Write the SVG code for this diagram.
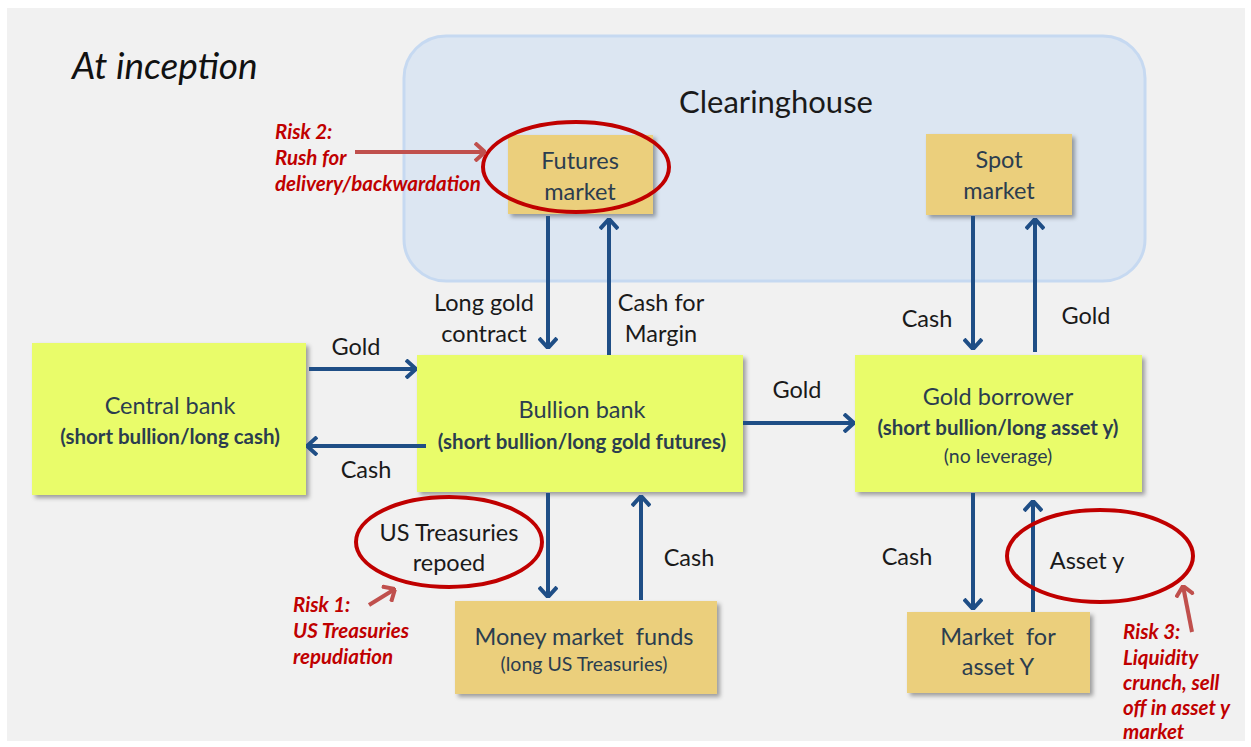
<svg xmlns="http://www.w3.org/2000/svg" width="1251" height="747" viewBox="0 0 1251 747">
<defs>
<filter id="sh" x="-10%" y="-10%" width="130%" height="130%">
<feDropShadow dx="3" dy="3" stdDeviation="2" flood-color="#000" flood-opacity="0.35"/>
</filter>
<marker id="ah" viewBox="0 0 12 20" refX="11" refY="10" markerWidth="12" markerHeight="20" markerUnits="userSpaceOnUse" orient="auto">
<polyline points="1,1 11,10 1,19" fill="none" stroke="#1f4e86" stroke-width="4"/>
</marker>
<marker id="rh" viewBox="0 0 12 20" refX="11" refY="10" markerWidth="12" markerHeight="20" markerUnits="userSpaceOnUse" orient="auto">
<polyline points="1,1 11,10 1,19" fill="none" stroke="#c0504d" stroke-width="4"/>
</marker>
</defs>
<style>
text{font-family:Lato,"Liberation Sans",sans-serif;white-space:pre;}
.node{fill:#2b3d4f;font-size:23.5px;text-anchor:middle;}
.sub{fill:#2b3d4f;font-size:20.5px;font-weight:bold;text-anchor:middle;}
.sm{fill:#2b3d4f;font-size:19.5px;text-anchor:middle;}
.lbl{fill:#1a1a1a;font-size:23.5px;text-anchor:middle;}
.risk{fill:#c00000;font-size:20.5px;font-weight:bold;font-style:italic;}
.yg{fill:#e9fc6a;filter:url(#sh);}
.tan{fill:#ebcf7b;filter:url(#sh);}
.arr{stroke:#1f4e86;stroke-width:4;fill:none;marker-end:url(#ah);}
.rarr{stroke:#c0504d;stroke-width:4;fill:none;marker-end:url(#rh);}
.ring{fill:none;stroke:#c00000;stroke-width:4;}
</style>
<rect x="0" y="0" width="1251" height="747" fill="#ffffff"/>
<rect x="7" y="8" width="1238" height="733" fill="#f1f1f1"/>
<text x="72" y="79" font-size="37" font-style="italic" fill="#111">At inception</text>

<g id="clearinghouse">
<rect x="404" y="36" width="741" height="245" rx="42" fill="#dce6f2" stroke="#c6d9f1" stroke-width="3"/>
<text x="776" y="113" font-size="31" fill="#1a1a1a" text-anchor="middle">Clearinghouse</text>
</g>

<g id="futures">
<rect class="tan" x="508" y="135" width="145" height="79"/>
<text class="node" x="580" y="169">Futures</text>
<text class="node" x="580" y="200">market</text>
</g>
<g id="spot">
<rect class="tan" x="926" y="134" width="146" height="81"/>
<text class="node" x="999" y="168">Spot</text>
<text class="node" x="999" y="199">market</text>
</g>
<g id="central">
<rect class="yg" x="32" y="343" width="274" height="152"/>
<text class="node" x="170" y="414">Central bank</text>
<text class="sub" x="170" y="444">(short bullion/long cash)</text>
</g>
<g id="bullion">
<rect class="yg" x="417" y="355" width="326" height="137"/>
<text class="node" x="582" y="418">Bullion bank</text>
<text class="sub" x="582" y="449">(short bullion/long gold futures)</text>
</g>
<g id="borrower">
<rect class="yg" x="855" y="355" width="287" height="137"/>
<text class="node" x="998" y="405">Gold borrower</text>
<text class="sub" x="998" y="435">(short bullion/long asset y)</text>
<text class="sm" x="998" y="463">(no leverage)</text>
</g>
<g id="mmf">
<rect class="tan" x="455" y="601" width="262" height="93"/>
<text class="node" x="584" y="645">Money market  funds</text>
<text class="sm" x="584" y="671">(long US Treasuries)</text>
</g>
<g id="marketY">
<rect class="tan" x="907" y="612" width="183" height="81"/>
<text class="node" x="998" y="645">Market  for</text>
<text class="node" x="998" y="675">asset Y</text>
</g>

<g id="connectors">
<line class="arr" x1="309" y1="369" x2="416" y2="369"/>
<line class="arr" x1="426" y1="446" x2="307" y2="446"/>
<line class="arr" x1="743" y1="423" x2="854" y2="423"/>
<line class="arr" x1="548" y1="216" x2="548" y2="348"/>
<line class="arr" x1="609" y1="355" x2="609" y2="219"/>
<line class="arr" x1="973" y1="216" x2="973" y2="349"/>
<line class="arr" x1="1035" y1="352" x2="1035" y2="219"/>
<line class="arr" x1="548" y1="493" x2="548" y2="597"/>
<line class="arr" x1="641" y1="600" x2="641" y2="496"/>
<line class="arr" x1="973" y1="493" x2="973" y2="609"/>
<line class="arr" x1="1033" y1="612" x2="1033" y2="501"/>
</g>

<g id="labels">
<text class="lbl" x="356" y="355">Gold</text>
<text class="lbl" x="366" y="478">Cash</text>
<text class="lbl" x="797" y="398">Gold</text>
<text class="lbl" x="484" y="311">Long gold</text>
<text class="lbl" x="484" y="342">contract</text>
<text class="lbl" x="661" y="311">Cash for</text>
<text class="lbl" x="661" y="342">Margin</text>
<text class="lbl" x="927" y="327">Cash</text>
<text class="lbl" x="1086" y="324">Gold</text>
<text class="lbl" x="689" y="566">Cash</text>
<text class="lbl" x="907" y="565">Cash</text>
</g>

<g id="risk1">
<ellipse class="ring" cx="449" cy="542" rx="93" ry="45"/>
<text class="lbl" x="449" y="541">US Treasuries</text>
<text class="lbl" x="449" y="571">repoed</text>
<line class="rarr" x1="369" y1="605" x2="395" y2="589"/>
<text class="risk" x="293" y="612">Risk 1:</text>
<text class="risk" x="293" y="638">US Treasuries</text>
<text class="risk" x="293" y="664">repudiation</text>
</g>
<g id="risk2">
<ellipse class="ring" cx="576" cy="167" rx="93" ry="45"/>
<line class="rarr" x1="355" y1="152" x2="485" y2="152"/>
<text class="risk" x="275" y="139">Risk 2:</text>
<text class="risk" x="275" y="165">Rush for</text>
<text class="risk" x="275" y="191">delivery/backwardation</text>
</g>
<g id="risk3">
<ellipse class="ring" cx="1100" cy="556" rx="93" ry="46"/>
<text class="lbl" x="1087" y="569">Asset y</text>
<line class="rarr" x1="1192" y1="632" x2="1183" y2="586"/>
<text class="risk" x="1123" y="639">Risk 3:</text>
<text class="risk" x="1123" y="665">Liquidity</text>
<text class="risk" x="1123" y="690">crunch, sell</text>
<text class="risk" x="1123" y="715">off in asset y</text>
<text class="risk" x="1123" y="739">market</text>
</g>
</svg>
